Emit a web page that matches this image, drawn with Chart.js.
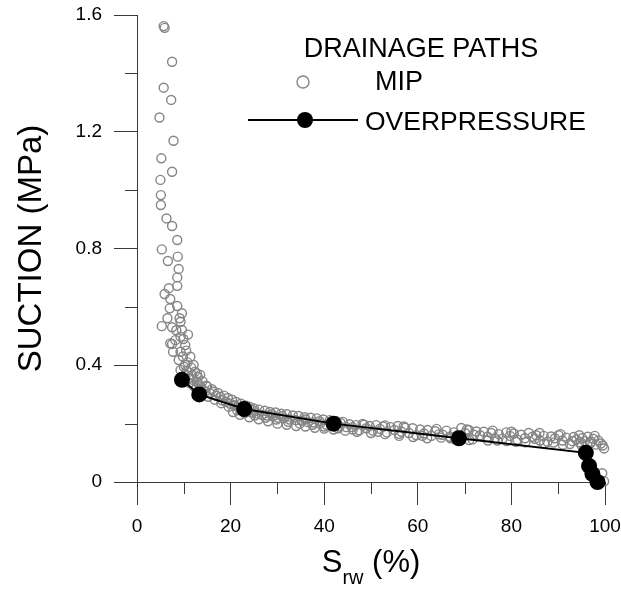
<!DOCTYPE html>
<html>
<head>
<meta charset="utf-8">
<script src="https://cdn.jsdelivr.net/npm/chart.js@4"></script>
<style>
  body { margin: 0; background: #fff; }
  #wrap { width: 621px; height: 590px; }
</style>
</head>
<body>
<div id="wrap"><canvas id="suctionChart" width="621" height="590"></canvas></div>
<script>
// MIP drainage path (hollow grey circles)
const mipSrw = [
  5.7, 5.9, 7.5, 5.7, 7.3, 4.8, 7.8, 5.2, 7.5, 5.0, 5.1, 5.1, 6.3, 7.5, 8.6, 5.3, 6.6, 8.7, 8.9, 8.6,
  8.6, 6.8, 5.9, 7.1, 8.6, 7.0, 9.6, 6.5, 9.1, 5.3, 7.5, 9.6, 9.3, 9.3, 7.1, 8.2, 10.3, 7.5, 7.7, 9.3,
  11.4, 8.9, 10.3, 12.1, 9.3, 12.8, 10.0, 13.5, 11.0, 12.8, 10.6, 11.8,
  13.2, 14.0, 14.2, 14.8, 15.0, 15.5, 16.0, 16.4, 16.9, 17.3, 17.8, 18.2, 18.6, 19.0, 19.4, 19.9, 20.3, 20.8,
  21.2, 21.7, 22.2, 22.6, 23.1, 23.5, 24.0, 24.5, 25.0, 25.6, 26.1, 26.7, 27.3, 27.8, 28.4, 29.0, 29.6, 30.2,
  30.8, 31.4, 32.0, 32.6, 33.3, 33.9, 34.5, 35.2, 35.8, 36.5, 37.1, 37.8, 38.4, 39.1, 39.8, 40.5, 41.2, 41.9,
  42.6, 43.3, 44.0, 44.7, 45.4, 46.1, 46.8, 47.5, 48.2, 49.0, 49.7, 50.4, 51.1, 51.9, 52.6, 53.4, 54.2, 55.0,
  55.7, 56.5, 57.3, 58.1, 58.9, 59.7, 60.5, 61.3, 62.1, 62.9, 63.7, 64.5, 65.3, 66.1, 66.9, 67.7, 68.5, 69.3,
  70.1, 70.9, 71.7, 72.5, 73.3, 74.1, 74.9, 75.7, 76.5, 77.3, 78.1, 78.9, 79.7, 80.5, 81.3, 82.1, 82.9, 83.7,
  84.5, 85.3, 86.1, 86.9, 87.7, 88.5, 89.3, 90.1, 90.9, 91.7, 92.5, 93.3, 93.9, 94.5, 95.1, 95.7, 96.3, 96.9,
  97.5, 98.1, 98.6, 99.1, 99.5, 99.8, 99.4, 99.8,
  10.2, 11.2, 12.0, 12.6, 13.8, 15.2, 16.6, 18.0, 19.6, 21.4, 23.0, 25.2, 27.5, 29.8, 32.3, 34.8, 37.5, 40.0,
  43.0, 46.0, 51.5, 56.0, 61.0, 67.0, 72.0, 77.0, 81.0, 85.0, 89.0, 93.0, 97.0,
  20.5, 22.0, 24.0, 26.0, 28.0, 30.0, 32.0, 34.0, 36.0, 38.0, 40.0, 42.0, 44.5, 47.0, 50.0, 53.0, 56.0, 59.0,
  62.0, 65.0, 68.0, 71.0, 75.0, 79.0, 83.0, 87.0, 91.0, 95.0,
  21.0, 24.8, 28.8, 31.0, 36.0, 39.0, 43.5, 48.5, 53.0, 57.0, 64.0, 70.5, 76.0, 80.0, 86.0, 90.5, 94.5, 97.8,
  9.8, 10.8, 11.6, 12.4, 13.0, 10.5, 11.9, 13.6, 14.6, 9.9, 8.4, 10.9
];
const mipSuction = [
  1.562, 1.556, 1.44, 1.351, 1.309, 1.249, 1.169, 1.109, 1.063, 1.035, 0.983, 0.949, 0.903, 0.877, 0.829, 0.797, 0.757, 0.772, 0.730, 0.701,
  0.672, 0.664, 0.644, 0.627, 0.603, 0.595, 0.578, 0.561, 0.561, 0.534, 0.530, 0.521, 0.498, 0.549, 0.475, 0.486, 0.469, 0.473, 0.446, 0.446,
  0.429, 0.418, 0.401, 0.401, 0.384, 0.372, 0.395, 0.367, 0.355, 0.344, 0.380, 0.365,
  0.335, 0.345, 0.315, 0.330, 0.327, 0.305, 0.318, 0.309, 0.295, 0.305, 0.292, 0.280, 0.296, 0.275, 0.288, 0.268, 0.282, 0.262,
  0.274, 0.255, 0.268, 0.248, 0.262, 0.242, 0.258, 0.238, 0.252, 0.235, 0.248, 0.230, 0.244, 0.228, 0.240, 0.225, 0.238, 0.220,
  0.234, 0.218, 0.232, 0.214, 0.228, 0.212, 0.226, 0.210, 0.222, 0.205, 0.220, 0.204, 0.218, 0.200, 0.214, 0.196, 0.212, 0.193,
  0.208, 0.190, 0.206, 0.188, 0.198, 0.180, 0.195, 0.177, 0.199, 0.184, 0.192, 0.176, 0.195, 0.182, 0.190, 0.170, 0.188, 0.178,
  0.192, 0.172, 0.186, 0.168, 0.184, 0.160, 0.180, 0.166, 0.178, 0.158, 0.174, 0.163, 0.162, 0.176, 0.155, 0.170, 0.160, 0.185,
  0.168, 0.178, 0.146, 0.173, 0.160, 0.172, 0.155, 0.168, 0.150, 0.164, 0.148, 0.170, 0.158, 0.166, 0.145, 0.162, 0.150, 0.168,
  0.155, 0.160, 0.142, 0.158, 0.138, 0.156, 0.150, 0.160, 0.142, 0.152, 0.130, 0.154, 0.145, 0.136, 0.150, 0.140, 0.155, 0.133,
  0.148, 0.128, 0.142, 0.132, 0.125, 0.115, 0.030, 0.002,
  0.365, 0.340, 0.330, 0.320, 0.300, 0.292, 0.282, 0.270, 0.258, 0.246, 0.236, 0.228, 0.220, 0.214, 0.206, 0.200, 0.196, 0.190,
  0.184, 0.188, 0.172, 0.165, 0.158, 0.150, 0.162, 0.142, 0.138, 0.148, 0.135, 0.140, 0.138,
  0.240, 0.230, 0.222, 0.215, 0.208, 0.200, 0.196, 0.192, 0.190, 0.186, 0.183, 0.180, 0.176, 0.172, 0.168, 0.164, 0.158, 0.154,
  0.150, 0.152, 0.146, 0.144, 0.142, 0.140, 0.136, 0.132, 0.128, 0.126,
  0.262, 0.246, 0.232, 0.226, 0.214, 0.208, 0.202, 0.196, 0.194, 0.190, 0.182, 0.180, 0.176, 0.172, 0.168, 0.164, 0.160, 0.158,
  0.430, 0.410, 0.392, 0.378, 0.360, 0.450, 0.350, 0.325, 0.310, 0.490, 0.520, 0.505
];

// overpressure drainage path (black dots with line)
const opSrw = [9.6, 13.3, 22.9, 42.0, 68.8, 95.9, 96.6, 97.3, 98.4];
const opSuction = [0.35, 0.30, 0.25, 0.20, 0.15, 0.10, 0.055, 0.028, 0.0];

const xTicks = [0, 20, 40, 60, 80, 100];
const yTicks = [0, 0.4, 0.8, 1.2, 1.6];

const FONT = "'Liberation Sans', Arial, sans-serif";
const AXIS = '#3a3a3a';
const GREY = '#858585';

const toPoints = (xs, ys) => xs.map((x, i) => ({ x: x, y: ys[i] }));
const isMajor = (v, list) => list.some(t => Math.abs(t - v) < 1e-6);

// малює дрібні засічки, підписи осей і легенду
const decorations = {
  id: 'decorations',
  afterDraw(chart) {
    const c = chart.ctx;
    const xs = chart.scales.x, ys = chart.scales.y;
    c.save();
    c.strokeStyle = AXIS;
    c.lineWidth = 1;
    // minor ticks
    xs.ticks.forEach(t => {
      if (isMajor(t.value, xTicks)) return;
      const px = Math.round(xs.getPixelForValue(t.value)) + 0.5;
      c.beginPath(); c.moveTo(px, xs.top); c.lineTo(px, xs.top + 12); c.stroke();
    });
    ys.ticks.forEach(t => {
      if (isMajor(t.value, yTicks)) return;
      const py = Math.round(ys.getPixelForValue(t.value)) + 0.5;
      c.beginPath(); c.moveTo(ys.right, py); c.lineTo(ys.right - 12, py); c.stroke();
    });

    // axis titles
    c.fillStyle = '#000';
    c.textBaseline = 'alphabetic';
    c.font = '31px ' + FONT;
    const sW = c.measureText('S').width;
    c.font = '20px ' + FONT;
    const subW = c.measureText('rw').width;
    c.font = '31px ' + FONT;
    const restW = c.measureText(' (%)').width;
    let x0 = (xs.left + xs.right) / 2 - (sW + subW + restW) / 2;
    c.textAlign = 'left';
    c.fillText('S', x0, 572);
    c.font = '20px ' + FONT;
    c.fillText('rw', x0 + sW, 584);
    c.font = '31px ' + FONT;
    c.fillText(' (%)', x0 + sW + subW, 572);

    c.save();
    c.translate(41, (ys.top + ys.bottom) / 2);
    c.rotate(-Math.PI / 2);
    c.textAlign = 'center';
    c.font = '33px ' + FONT;
    c.fillText('SUCTION (MPa)', 0, 0);
    c.restore();

    // legend
    c.font = '27px ' + FONT;
    c.textAlign = 'center';
    c.fillText('DRAINAGE PATHS', 421, 57);
    c.textAlign = 'left';
    c.font = '27px ' + FONT;
    c.fillText('MIP', 375, 90);
    c.font = '26.5px ' + FONT;
    c.fillText('OVERPRESSURE', 365, 130);

    c.strokeStyle = GREY;
    c.lineWidth = 1.4;
    c.beginPath(); c.arc(303, 82, 6, 0, Math.PI * 2); c.stroke();

    c.strokeStyle = '#000';
    c.lineWidth = 2;
    c.beginPath(); c.moveTo(248, 120); c.lineTo(358, 120); c.stroke();
    c.fillStyle = '#000';
    c.beginPath(); c.arc(305, 120, 8, 0, Math.PI * 2); c.fill();
    c.restore();
  }
};

const ctx = document.getElementById('suctionChart').getContext('2d');
const suctionChart = new Chart(ctx, {
  type: 'scatter',
  data: {
    datasets: [
      {
        label: 'OVERPRESSURE',
        data: toPoints(opSrw, opSuction),
        showLine: true,
        borderColor: '#000',
        borderWidth: 2,
        pointRadius: 8,
        pointBackgroundColor: '#000',
        pointBorderColor: '#000',
        pointBorderWidth: 0,
        clip: false,
        order: 0
      },
      {
        label: 'MIP',
        data: toPoints(mipSrw, mipSuction),
        showLine: false,
        pointRadius: 4.5,
        pointBorderWidth: 1.4,
        pointBorderColor: GREY,
        pointBackgroundColor: 'rgba(0,0,0,0)',
        clip: false,
        order: 1
      }
    ]
  },
  options: {
    responsive: false,
    animation: false,
    devicePixelRatio: 1,
    layout: { padding: { top: 15, right: 16, left: 0, bottom: 0 } },
    plugins: {
      legend: { display: false },
      tooltip: { enabled: false }
    },
    scales: {
      x: {
        type: 'linear',
        min: 0,
        max: 100,
        afterFit: s => { s.height = 108; s.paddingRight = 0; s.paddingLeft = 0; },
        border: { color: AXIS, width: 1 },
        grid: {
          drawOnChartArea: false,
          tickLength: 23,
          tickColor: c => isMajor(c.tick.value, xTicks) ? AXIS : 'rgba(0,0,0,0)'
        },
        ticks: {
          stepSize: 10,
          maxRotation: 0,
          autoSkip: false,
          color: '#000',
          padding: 10,
          font: { family: FONT, size: 19 },
          callback: v => isMajor(v, xTicks) ? String(v) : ''
        }
      },
      y: {
        type: 'linear',
        min: 0,
        max: 1.6,
        afterFit: s => { s.width = 137; s.paddingTop = 0; s.paddingBottom = 0; },
        border: { color: AXIS, width: 1 },
        grid: {
          drawOnChartArea: false,
          tickLength: 23,
          tickColor: c => isMajor(c.tick.value, yTicks) ? AXIS : 'rgba(0,0,0,0)'
        },
        ticks: {
          stepSize: 0.2,
          autoSkip: false,
          color: '#000',
          padding: 12,
          font: { family: FONT, size: 19 },
          callback: v => isMajor(v, yTicks) ? (v === 0 ? '0' : v.toFixed(1)) : ''
        }
      }
    }
  },
  plugins: [decorations]
});
</script>
</body>
</html>
